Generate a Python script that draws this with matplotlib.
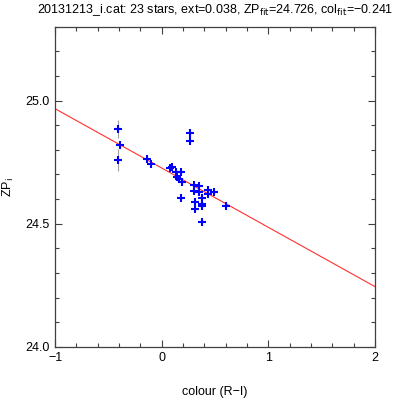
import matplotlib
matplotlib.use("Agg")
import matplotlib.pyplot as plt
import numpy as np
from matplotlib.ticker import MultipleLocator, FuncFormatter

plt.rcParams['font.family'] = ['Liberation Sans', 'DejaVu Sans']

colour = [-0.412, -0.412, -0.394, -0.141, -0.097, 0.078, 0.097, 0.131, 0.184,
          0.141, 0.159, 0.191, 0.181, 0.269, 0.269, 0.300, 0.347, 0.300, 0.347,
          0.309, 0.309, 0.381, 0.381, 0.381, 0.381, 0.438, 0.438, 0.488, 0.603]
zp = [24.886, 24.760, 24.818, 24.763, 24.744, 24.725, 24.729, 24.708, 24.711,
      24.688, 24.683, 24.669, 24.604, 24.868, 24.836, 24.657, 24.651, 24.634, 24.630,
      24.588, 24.559, 24.604, 24.581, 24.573, 24.508, 24.638, 24.621, 24.627, 24.570]
zp_err = [0.037, 0.045, 0.010, 0.006, 0.006, 0.006, 0.006, 0.006, 0.006,
          0.006, 0.006, 0.006, 0.008, 0.006, 0.006, 0.006, 0.006, 0.006, 0.006,
          0.006, 0.006, 0.006, 0.006, 0.006, 0.008, 0.006, 0.006, 0.006, 0.006]

zp_fit = 24.726
col_fit = -0.241

fig = plt.figure(figsize=(3.99, 3.99), dpi=100)
ax = fig.add_axes([0.138, 0.131, 0.802, 0.802])

ax.errorbar(colour, zp, yerr=zp_err, fmt='none', ecolor='#a0a0a0', elinewidth=0.8, zorder=2)
ax.plot(colour, zp, linestyle='none', marker='+', color='#0000ff', markersize=6,
        markeredgewidth=1.5, zorder=3)

xs = np.array([-1.0, 2.0])
ax.plot(xs, zp_fit + col_fit * xs, color='#ff3030', linewidth=0.8, zorder=1)

ax.set_xlim(-1, 2)
ax.set_ylim(24.0, 25.3)
ax.xaxis.set_major_locator(MultipleLocator(1))
ax.xaxis.set_minor_locator(MultipleLocator(0.2))
ax.yaxis.set_major_locator(MultipleLocator(0.5))
ax.yaxis.set_minor_locator(MultipleLocator(0.1))
ax.xaxis.set_major_formatter(FuncFormatter(lambda v, p: f"{v:.0f}".replace('-', '\u2212')))
ax.yaxis.set_major_formatter(FuncFormatter(lambda v, p: f"{v:.1f}"))

ax.tick_params(which='both', direction='in', top=True, right=True, labelsize=9,
               color='#404040', width=0.8)
ax.tick_params(which='major', length=5, pad=4)
ax.tick_params(which='minor', length=3)
for s in ax.spines.values():
    s.set_color('#404040')
    s.set_linewidth(0.9)

ax.set_xlabel('colour (R\u2212I)', fontsize=9)
ax.xaxis.set_label_coords(0.5, -0.14)
ax.xaxis.label.set_verticalalignment('center')
ax.set_ylabel('ZP$_\\mathrm{i}$', fontsize=9)
ax.yaxis.set_label_coords(-0.145, 0.5)
ax.yaxis.label.set_verticalalignment('center')
ax.set_title('20131213_i.cat: 23 stars, ext=0.038, ZP$_\\mathrm{fit}$=24.726, col$_\\mathrm{fit}$=\u22120.241',
             fontsize=9, pad=10)

fig.savefig('out.png', dpi=100)
